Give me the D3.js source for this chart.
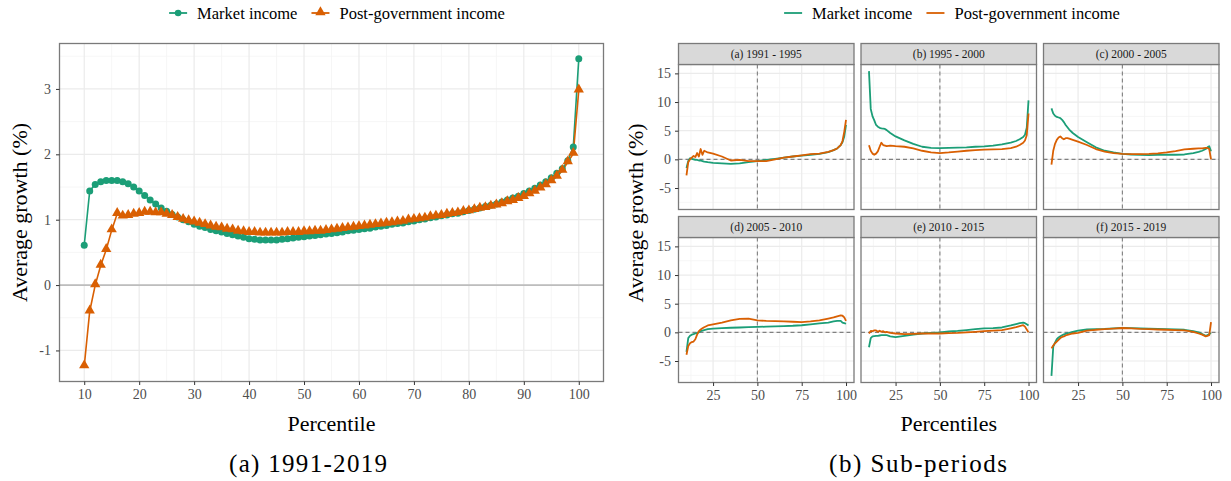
<!DOCTYPE html>
<html>
<head>
<meta charset="utf-8">
<script src="https://cdn.jsdelivr.net/npm/d3@7"></script>
<style>
  body { margin: 0; background: #fff; }
  svg text { font-family: "Liberation Serif", "Times New Roman", serif; }
</style>
</head>
<body>
<svg id="chart" width="1231" height="481"></svg>
<script>
// ---- data ----
var seriesNames = ["Market income", "Post-government income"];
var colors = ["#1b9e77", "#d95f02"];

// left panel: every percentile 10..100
var pctAll = d3.range(10, 101);
var marketAll = [0.61, 1.44, 1.54, 1.58, 1.60, 1.60, 1.60, 1.58, 1.55, 1.50,
  1.44, 1.37, 1.30, 1.24, 1.18, 1.13, 1.08, 1.04, 1.00, 0.97,
  0.93, 0.90, 0.88, 0.85, 0.83, 0.81, 0.79, 0.77, 0.75, 0.73,
  0.71, 0.70, 0.69, 0.69, 0.69, 0.69, 0.70, 0.71, 0.72, 0.73,
  0.74, 0.75, 0.76, 0.77, 0.78, 0.79, 0.80, 0.81, 0.83, 0.84,
  0.85, 0.86, 0.87, 0.89, 0.90, 0.91, 0.93, 0.94, 0.95, 0.97,
  0.98, 1.00, 1.01, 1.03, 1.04, 1.06, 1.07, 1.09, 1.10, 1.12,
  1.14, 1.16, 1.18, 1.20, 1.22, 1.24, 1.27, 1.30, 1.33, 1.36,
  1.40, 1.44, 1.48, 1.53, 1.58, 1.64, 1.71, 1.78, 1.90, 2.11, 3.46];
var postAll = [-1.24, -0.40, 0.00, 0.30, 0.54, 0.84, 1.09, 1.05, 1.06, 1.08,
  1.09, 1.11, 1.11, 1.10, 1.10, 1.08, 1.06, 1.03, 1.00, 0.98,
  0.96, 0.94, 0.92, 0.90, 0.88, 0.87, 0.85, 0.84, 0.82, 0.81,
  0.80, 0.80, 0.79, 0.79, 0.79, 0.79, 0.79, 0.80, 0.80, 0.80,
  0.81, 0.81, 0.82, 0.82, 0.83, 0.84, 0.85, 0.86, 0.87, 0.88,
  0.89, 0.90, 0.91, 0.92, 0.93, 0.94, 0.95, 0.96, 0.97, 0.99,
  1.00, 1.01, 1.02, 1.04, 1.05, 1.06, 1.08, 1.09, 1.10, 1.12,
  1.13, 1.15, 1.17, 1.18, 1.20, 1.22, 1.24, 1.27, 1.29, 1.32,
  1.35, 1.39, 1.43, 1.48, 1.53, 1.59, 1.66, 1.75, 1.88, 2.01, 2.98];

// right panel: sub-periods, read at these percentiles
var pctFacet = [10, 11, 12, 13, 14, 15, 16, 17, 18, 19, 20, 22, 25, 30, 35, 40,
  45, 50, 55, 60, 65, 70, 75, 80, 85, 90, 93, 95, 97, 98, 99, 100];
var periods = ["(a) 1991 - 1995", "(b) 1995 - 2000", "(c) 2000 - 2005",
  "(d) 2005 - 2010", "(e) 2010 - 2015", "(f) 2015 - 2019"];
var marketA = [-1.5, -0.3, 0.2, 0.1, 0.0, -0.1, -0.1, -0.2, -0.2, -0.3, -0.4, -0.5, -0.6, -0.7, -0.8, -0.7,
  -0.5, -0.3, -0.1, 0.1, 0.3, 0.5, 0.65, 0.8, 0.95, 1.25, 1.6, 1.9, 2.5, 3.0, 4.0, 6.0];
var postA = [-2.8, -0.5, 0.0, 0.3, 0.6, 0.4, 1.1, 0.5, 1.8, 0.8, 1.5, 1.2, 1.0, 0.5, -0.2, -0.1,
  -0.3, -0.3, -0.3, 0.0, 0.3, 0.5, 0.7, 0.9, 1.0, 1.3, 1.6, 1.9, 2.5, 3.2, 4.8, 6.9];
var marketB = [15.4, 8.8, 7.5, 6.8, 6.0, 5.7, 5.5, 5.4, 5.35, 5.3, 5.1, 4.6, 4.0, 3.3, 2.7, 2.2,
  2.0, 1.95, 2.0, 2.05, 2.1, 2.2, 2.27, 2.4, 2.6, 2.9, 3.2, 3.5, 3.9, 4.3, 5.5, 10.3];
var postB = [2.45, 1.5, 1.0, 0.8, 1.0, 1.4, 2.2, 2.9, 2.5, 2.4, 2.3, 2.4, 2.3, 2.2, 1.9, 1.5,
  1.2, 1.1, 1.2, 1.35, 1.5, 1.6, 1.7, 1.75, 1.8, 1.95, 2.2, 2.5, 2.9, 3.3, 4.2, 8.0];
var marketC = [8.9, 8.0, 7.6, 7.4, 7.3, 7.2, 6.9, 6.5, 6.0, 5.6, 5.2, 4.6, 3.9, 3.0, 2.1, 1.5,
  1.2, 0.96, 0.85, 0.8, 0.75, 0.78, 0.8, 0.8, 0.85, 1.1, 1.3, 1.5, 1.8, 2.1, 2.3, 1.4];
var postC = [-0.9, 1.5, 2.7, 3.4, 3.8, 4.0, 3.7, 3.5, 3.7, 3.7, 3.6, 3.4, 3.1, 2.5, 1.8, 1.35,
  1.1, 0.96, 0.9, 0.9, 0.95, 1.05, 1.2, 1.45, 1.75, 1.85, 1.9, 1.9, 2.0, 2.0, 1.8, 0.0];
var marketD = [-3.4, -1.0, -0.6, -0.4, -0.3, -0.2, -0.1, 0.0, 0.2, 0.3, 0.4, 0.55, 0.65, 0.75, 0.8, 0.85,
  0.9, 0.94, 1.0, 1.05, 1.1, 1.15, 1.24, 1.4, 1.55, 1.7, 1.9, 2.0, 2.0, 1.7, 1.6, 1.5];
var postD = [-3.9, -2.4, -1.9, -1.7, -1.6, -1.2, -0.4, 0.2, 0.5, 0.7, 0.9, 1.2, 1.4, 1.7, 2.1, 2.35,
  2.4, 2.1, 2.0, 1.95, 1.9, 1.85, 1.8, 1.9, 2.1, 2.4, 2.6, 2.8, 2.95, 2.9, 2.6, 2.0];
var marketE = [-2.6, -1.0, -0.7, -0.65, -0.6, -0.6, -0.55, -0.5, -0.5, -0.5, -0.5, -0.7, -0.85, -0.6, -0.4, -0.2,
  -0.1, 0.0, 0.15, 0.25, 0.4, 0.55, 0.7, 0.75, 0.85, 1.2, 1.45, 1.6, 1.7, 1.6, 1.4, 1.2];
var postE = [-0.2, 0.25, 0.2, 0.35, 0.35, 0.1, 0.3, 0.1, 0.2, 0.0, 0.1, -0.1, -0.2, -0.3, -0.25, -0.2,
  -0.2, -0.2, -0.15, -0.1, 0.0, 0.1, 0.2, 0.3, 0.4, 0.7, 0.9, 1.1, 1.25, 1.0, 0.5, 0.0];
var marketF = [-7.6, -2.5, -1.8, -1.2, -0.9, -0.7, -0.5, -0.35, -0.25, -0.15, -0.1, 0.1, 0.3, 0.5, 0.55, 0.6,
  0.7, 0.76, 0.75, 0.7, 0.65, 0.6, 0.55, 0.5, 0.45, 0.2, 0.0, -0.3, -0.6, -0.5, -0.3, -0.1];
var postF = [-2.8, -2.3, -1.9, -1.6, -1.3, -1.0, -0.8, -0.7, -0.55, -0.45, -0.35, -0.2, -0.1, 0.3, 0.45, 0.55,
  0.65, 0.76, 0.7, 0.6, 0.55, 0.5, 0.45, 0.4, 0.35, 0.1, -0.2, -0.4, -0.7, -0.6, -0.5, 1.8];

var facetMarket = [marketA, marketB, marketC, marketD, marketE, marketF];
var facetPost = [postA, postB, postC, postD, postE, postF];

var svg = d3.select("#chart");
var gridMajor = "#ebebeb", gridMinor = "#f4f4f4", borderCol = "#7a7a7a", tickText = "#4d4d4d";
var plain = function(d) { return String(d); };

function expand(ext) { var d = (ext[1] - ext[0]) * 0.05; return [ext[0] - d, ext[1] + d]; }

function styleAxis(a) {
  a.select(".domain").remove();
  a.selectAll(".tick line").attr("stroke", "#333");
  a.selectAll(".tick text").attr("fill", tickText).style("font-size", "14px")
    .style("font-family", "Liberation Serif");
}

// ================= LEFT PANEL =================
var L = { x0: 59.5, x1: 603.5, y0: 43.5, y1: 381.5 };
var xL = d3.scaleLinear().domain(expand([10, 100])).range([L.x0, L.x1]);
var yL = d3.scaleLinear().domain(expand(d3.extent(marketAll.concat(postAll)))).range([L.y1, L.y0]);

var gL = svg.append("g");
// minor grid
gL.selectAll(".vminor").data(d3.range(15, 101, 10)).enter().append("line")
  .attr("x1", xL).attr("x2", xL).attr("y1", L.y0).attr("y2", L.y1)
  .attr("stroke", gridMinor).attr("stroke-width", 0.8);
gL.selectAll(".hminor").data([-0.5, 0.5, 1.5, 2.5, 3.5]).enter().append("line")
  .attr("x1", L.x0).attr("x2", L.x1).attr("y1", yL).attr("y2", yL)
  .attr("stroke", gridMinor).attr("stroke-width", 0.8);
// major grid
gL.selectAll(".vmajor").data(d3.range(10, 101, 10)).enter().append("line")
  .attr("x1", xL).attr("x2", xL).attr("y1", L.y0).attr("y2", L.y1)
  .attr("stroke", gridMajor).attr("stroke-width", 1.2);
gL.selectAll(".hmajor").data([-1, 0, 1, 2, 3]).enter().append("line")
  .attr("x1", L.x0).attr("x2", L.x1).attr("y1", yL).attr("y2", yL)
  .attr("stroke", gridMajor).attr("stroke-width", 1.2);
// zero line
gL.append("line").attr("x1", L.x0).attr("x2", L.x1).attr("y1", yL(0)).attr("y2", yL(0))
  .attr("stroke", "#bdbdbd").attr("stroke-width", 1.8);

var lineL = d3.line().x(function(d) { return xL(d[0]); }).y(function(d) { return yL(d[1]); });
[marketAll, postAll].forEach(function(vals, si) {
  var pts = pctAll.map(function(p, i) { return [p, vals[i]]; });
  gL.append("path").datum(pts).attr("d", lineL).attr("fill", "none")
    .attr("stroke", colors[si]).attr("stroke-width", 1.6);
});
// points
gL.selectAll(".pm").data(pctAll.map(function(p, i) { return [p, marketAll[i]]; })).enter()
  .append("circle").attr("cx", function(d) { return xL(d[0]); }).attr("cy", function(d) { return yL(d[1]); })
  .attr("r", 3.5).attr("fill", colors[0]);
var tri = d3.symbol().type(d3.symbolTriangle).size(46);
gL.selectAll(".pp").data(pctAll.map(function(p, i) { return [p, postAll[i]]; })).enter()
  .append("path").attr("d", tri)
  .attr("transform", function(d) { return "translate(" + xL(d[0]) + "," + (yL(d[1]) - 0.8) + ")"; })
  .attr("fill", colors[1]);

// border
gL.append("rect").attr("x", L.x0).attr("y", L.y0).attr("width", L.x1 - L.x0).attr("height", L.y1 - L.y0)
  .attr("fill", "none").attr("stroke", borderCol).attr("stroke-width", 1.3);

// axes
styleAxis(gL.append("g").attr("transform", "translate(0," + L.y1 + ")")
  .call(d3.axisBottom(xL).tickValues(d3.range(10, 101, 10)).tickFormat(plain).tickSize(3.5).tickPadding(4)));
styleAxis(gL.append("g").attr("transform", "translate(" + L.x0 + ",0)")
  .call(d3.axisLeft(yL).tickValues([-1, 0, 1, 2, 3]).tickFormat(plain).tickSize(3.5).tickPadding(5)));

gL.append("text").attr("x", (L.x0 + L.x1) / 2).attr("y", 431).attr("text-anchor", "middle")
  .style("font-size", "22px").text("Percentile");
gL.append("text").attr("transform", "translate(27," + (L.y0 + L.y1) / 2 + ") rotate(-90)")
  .attr("text-anchor", "middle").style("font-size", "22px").text("Average growth (%)");

// ================= RIGHT PANEL (facets) =================
var F = { x0: 678.5, w: 175.5, gap: 7, y0: 43.5, stripH: 21, h: 145, rowGap: 7 };
var xF = d3.scaleLinear().domain(expand([10, 100])).range([0, F.w]);
var allF = [].concat.apply([], facetMarket.concat(facetPost));
var yF = d3.scaleLinear().domain(expand(d3.extent(allF))).range([F.h, 0]);
var lineF = d3.line().x(function(d) { return xF(d[0]); }).y(function(d) { return yF(d[1]); });

periods.forEach(function(title, k) {
  var col = k % 3, row = Math.floor(k / 3);
  var px = F.x0 + col * (F.w + F.gap);
  var sy = F.y0 + row * (F.stripH + F.h + F.rowGap);
  var py = sy + F.stripH;
  var g = svg.append("g").attr("transform", "translate(" + px + "," + py + ")");

  g.selectAll(".vmin").data([12.5, 37.5, 62.5, 87.5]).enter().append("line")
    .attr("x1", xF).attr("x2", xF).attr("y1", 0).attr("y2", F.h).attr("stroke", gridMinor).attr("stroke-width", 0.8);
  g.selectAll(".hmin").data([-7.5, -2.5, 2.5, 7.5, 12.5]).enter().append("line")
    .attr("x1", 0).attr("x2", F.w).attr("y1", yF).attr("y2", yF).attr("stroke", gridMinor).attr("stroke-width", 0.8);
  g.selectAll(".vmaj").data([25, 50, 75, 100]).enter().append("line")
    .attr("x1", xF).attr("x2", xF).attr("y1", 0).attr("y2", F.h).attr("stroke", gridMajor).attr("stroke-width", 1.2);
  g.selectAll(".hmaj").data([-5, 0, 5, 10, 15]).enter().append("line")
    .attr("x1", 0).attr("x2", F.w).attr("y1", yF).attr("y2", yF).attr("stroke", gridMajor).attr("stroke-width", 1.2);

  // reference lines
  g.append("line").attr("x1", 0).attr("x2", F.w).attr("y1", yF(0)).attr("y2", yF(0))
    .attr("stroke", "#808080").attr("stroke-width", 1.1).attr("stroke-dasharray", "4,3");
  g.append("line").attr("x1", xF(50)).attr("x2", xF(50)).attr("y1", 0).attr("y2", F.h)
    .attr("stroke", "#808080").attr("stroke-width", 1.1).attr("stroke-dasharray", "4,3");

  [facetMarket[k], facetPost[k]].forEach(function(vals, si) {
    var pts = pctFacet.map(function(p, i) { return [p, vals[i]]; });
    g.append("path").datum(pts).attr("d", lineF).attr("fill", "none")
      .attr("stroke", colors[si]).attr("stroke-width", 1.8).attr("stroke-linejoin", "round");
  });

  g.append("rect").attr("x", 0).attr("y", 0).attr("width", F.w).attr("height", F.h)
    .attr("fill", "none").attr("stroke", borderCol).attr("stroke-width", 1.3);

  // strip
  svg.append("rect").attr("x", px).attr("y", sy).attr("width", F.w).attr("height", F.stripH)
    .attr("fill", "#d9d9d9").attr("stroke", borderCol).attr("stroke-width", 1.3);
  svg.append("text").attr("x", px + F.w / 2).attr("y", sy + F.stripH / 2 + 4)
    .attr("text-anchor", "middle").attr("fill", "#1a1a1a").style("font-size", "11.5px").text(title);

  if (row === 1) {
    styleAxis(g.append("g").attr("transform", "translate(0," + F.h + ")")
      .call(d3.axisBottom(xF).tickValues([25, 50, 75, 100]).tickFormat(plain).tickSize(3.5).tickPadding(4)));
  }
  if (col === 0) {
    styleAxis(g.append("g")
      .call(d3.axisLeft(yF).tickValues([-5, 0, 5, 10, 15]).tickFormat(plain).tickSize(3.5).tickPadding(4)));
  }
});

svg.append("text").attr("x", F.x0 + (3 * F.w + 2 * F.gap) / 2).attr("y", 431).attr("text-anchor", "middle")
  .style("font-size", "22px").text("Percentiles");
svg.append("text").attr("transform", "translate(643," + (F.y0 + (2 * (F.stripH + F.h) + F.rowGap) / 2) + ") rotate(-90)")
  .attr("text-anchor", "middle").style("font-size", "22px").text("Average growth (%)");

// ================= LEGENDS =================
function legend(cx, withPoints) {
  var g = svg.append("g");
  var x = 0;
  seriesNames.forEach(function(name, i) {
    var item = g.append("g").attr("transform", "translate(" + x + ",0)");
    item.append("line").attr("x1", 0).attr("x2", 18).attr("y1", 0).attr("y2", 0)
      .attr("stroke", colors[i]).attr("stroke-width", 1.8);
    if (withPoints) {
      if (i === 0) item.append("circle").attr("cx", 9).attr("cy", 0).attr("r", 3.3).attr("fill", colors[i]);
      else item.append("path").attr("d", tri).attr("transform", "translate(9,-0.8)").attr("fill", colors[i]);
    }
    var t = item.append("text").attr("x", 28).attr("y", 6).style("font-size", "16.5px").text(name);
    x += 28 + t.node().getComputedTextLength() + 14;
  });
  var w = x - 14;
  g.attr("transform", "translate(" + (cx - w / 2) + ",13)");
}
legend(337, true);
legend(952, false);

// ================= CAPTIONS =================
svg.append("text").attr("x", 308).attr("y", 472).attr("text-anchor", "middle")
  .attr("textLength", 158).attr("lengthAdjust", "spacing")
  .style("font-size", "25px").text("(a) 1991-2019");
svg.append("text").attr("x", 918).attr("y", 472).attr("text-anchor", "middle")
  .attr("textLength", 178).attr("lengthAdjust", "spacing")
  .style("font-size", "25px").text("(b) Sub-periods");
</script>
</body>
</html>
